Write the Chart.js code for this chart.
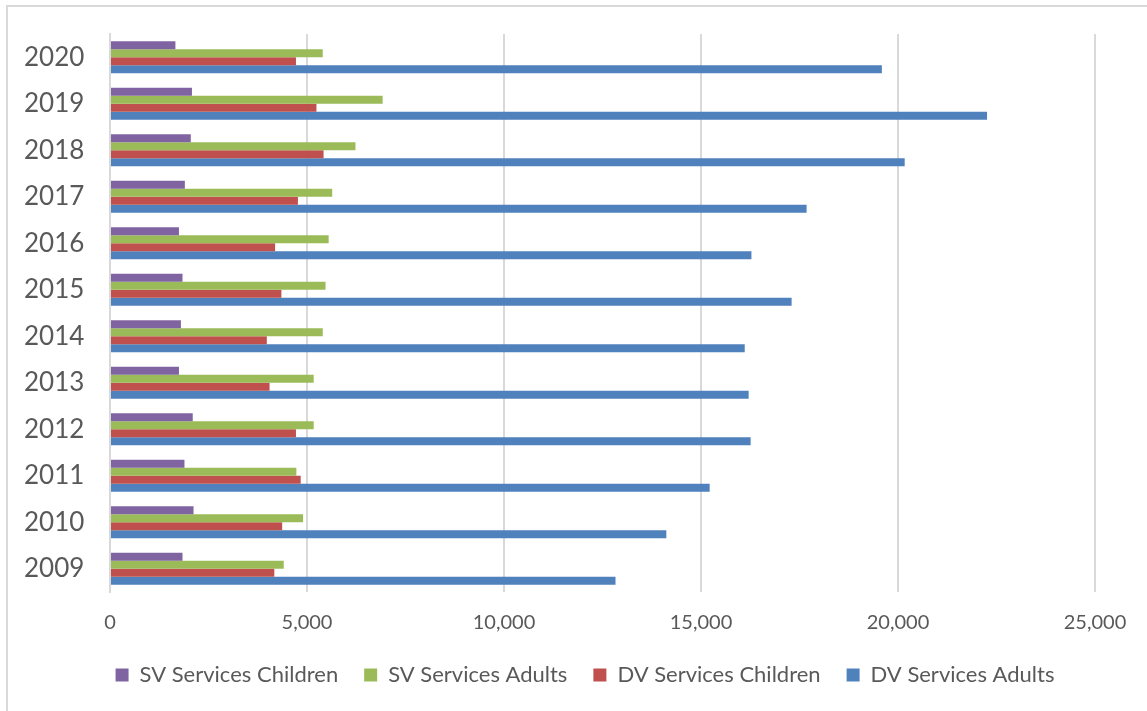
<!DOCTYPE html>
<html>
<head>
<meta charset="utf-8">
<script src="https://cdn.jsdelivr.net/npm/chart.js@4.4.1/dist/chart.umd.min.js"></script>
<style>
  html, body { margin: 0; padding: 0; background: #fff; overflow: hidden; }
  .frame {
    position: absolute;
    left: 6px;
    top: 5px;
    width: 1158px;
    height: 720px;
    border: 2px solid #d9d9d9;
  }
</style>
</head>
<body>
<div class="frame">
  <canvas id="services" width="1158" height="704"></canvas>
</div>
<script>
// years as shown, top to bottom
const years = ['2020', '2019', '2018', '2017', '2016', '2015', '2014', '2013', '2012', '2011', '2010', '2009'];

const svChildren = [1660, 2080, 2050, 1900, 1750, 1840, 1800, 1750, 2100, 1890, 2120, 1840];
const svAdults   = [5400, 6920, 6230, 5640, 5550, 5470, 5400, 5170, 5170, 4730, 4900, 4410];
const dvChildren = [4720, 5240, 5420, 4770, 4190, 4350, 3980, 4050, 4720, 4840, 4370, 4170];
const dvAdults   = [19590, 22260, 20170, 17680, 16280, 17300, 16110, 16210, 16260, 15220, 14120, 12830];

const xTicks = [0, 5000, 10000, 15000, 20000, 25000];

const textColor = '#595959';
const gridColor = '#d9d9d9';

const ctx = document.getElementById('services').getContext('2d');

new Chart(ctx, {
  type: 'bar',
  data: {
    labels: years,
    datasets: [
      { label: 'SV Services Children', data: svChildren, backgroundColor: '#8064A2' },
      { label: 'SV Services Adults', data: svAdults, backgroundColor: '#9BBB59' },
      { label: 'DV Services Children', data: dvChildren, backgroundColor: '#C0504D' },
      { label: 'DV Services Adults', data: dvAdults, backgroundColor: '#4F81BD' }
    ]
  },
  options: {
    indexAxis: 'y',
    responsive: false,
    animation: false,
    categoryPercentage: 0.69,
    barPercentage: 1.0,
    layout: {
      padding: { top: 27, left: 67, right: 71, bottom: 15 }
    },
    plugins: {
      tooltip: { enabled: false },
      legend: {
        position: 'bottom',
        labels: {
          color: textColor,
          font: { family: 'Lato', size: 22 },
          boxWidth: 13,
          boxHeight: 13,
          padding: 26
        }
      }
    },
    scales: {
      x: {
        min: 0,
        max: 25000,
        afterBuildTicks: scale => {
          scale.ticks = xTicks.map(v => ({ value: v }));
        },
        // mirrored labels are not clipped, so the box size is free
        afterFit: scale => {
          scale.height = 46;
        },
        grid: {
          color: gridColor,
          lineWidth: 2,
          drawTicks: false
        },
        border: { display: false },
        ticks: {
          mirror: true,
          color: textColor,
          padding: -41,
          font: { family: 'Lato', size: 20, lineHeight: 1 },
          callback: v => v.toLocaleString('en-US')
        }
      },
      y: {
        afterFit: scale => {
          scale.width = 35;
        },
        grid: { display: false, drawTicks: false },
        border: { display: true, color: gridColor, width: 2 },
        ticks: {
          mirror: true,
          color: textColor,
          padding: -86,
          font: { family: 'Lato', size: 26 }
        }
      }
    }
  }
});
</script>
</body>
</html>
